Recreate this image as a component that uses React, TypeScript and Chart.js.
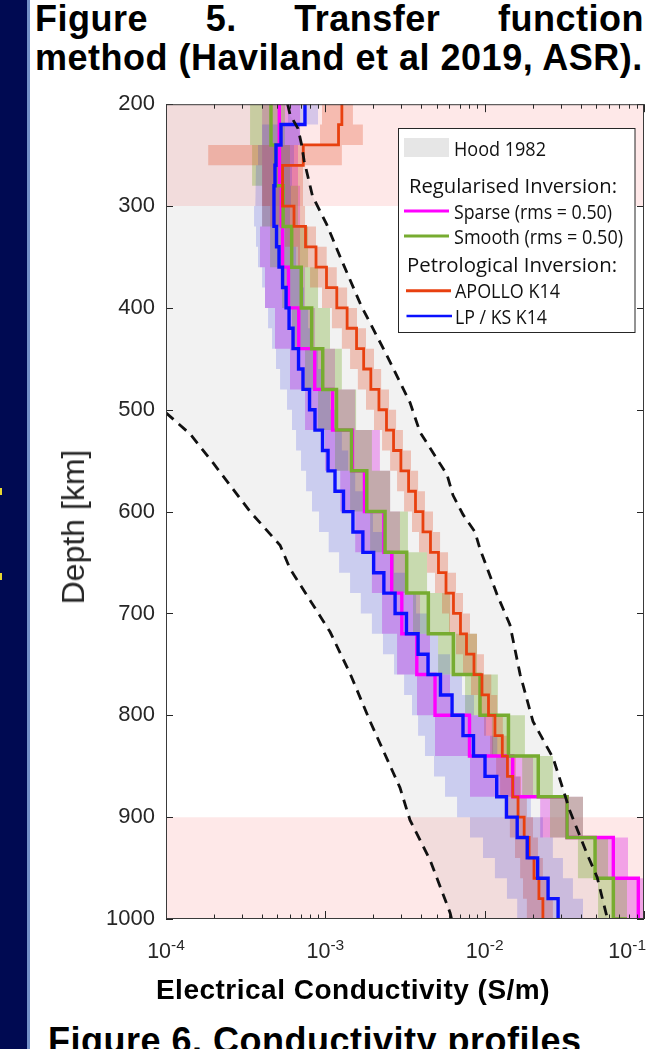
import React, { useEffect, useRef } from 'react';
import { Chart, registerables } from 'chart.js';

Chart.register(...registerables);

// ---------------- data ----------------
const DEPTH_MIN = 200;
const DEPTH_MAX = 1000;
const SIGMA_MIN = 1e-4;
const SIGMA_MAX = 1e-1;

const Y_TICKS = [200, 300, 400, 500, 600, 700, 800, 900, 1000];
const X_MAJOR_TICKS = [1e-4, 1e-3, 1e-2, 1e-1];
const X_TICK_EXPONENTS = ['-4', '-3', '-2', '-1'];
const X_MINOR_TICKS = [
  2e-4, 3e-4, 4e-4, 5e-4, 6e-4, 7e-4, 8e-4, 9e-4,
  2e-3, 3e-3, 4e-3, 5e-3, 6e-3, 7e-3, 8e-3, 9e-3,
  2e-2, 3e-2, 4e-2, 5e-2, 6e-2, 7e-2, 8e-2, 9e-2,
];

// top depth (km) of each model layer
const LAYER_TOPS_20 = [
  200, 220, 240, 260, 280, 300, 320, 340, 360, 380,
  400, 420, 440, 460, 480, 500, 520, 540, 560, 580,
  600, 620, 640, 660, 680, 700, 720, 740, 760, 780,
  800, 820, 840, 860, 880, 900, 920, 940, 960, 980,
];
const LAYER_TOPS_40 = [
  200, 240, 280, 320, 360, 400, 440, 480, 520, 560,
  600, 640, 680, 720, 760, 800, 840, 880, 920, 960,
];

// Petrological inversion, LP / KS K14 (S/m)
const LPKS_K14 = [
  7.45e-4, 5.27e-4, 4.90e-4, 4.83e-4, 4.76e-4, 4.76e-4, 4.94e-4, 5.12e-4, 5.39e-4, 5.67e-4,
  5.92e-4, 6.27e-4, 6.79e-4, 7.24e-4, 7.96e-4, 8.61e-4, 9.60e-4, 1.04e-3, 1.15e-3, 1.30e-3,
  1.49e-3, 1.72e-3, 2.01e-3, 2.33e-3, 2.74e-3, 3.23e-3, 3.82e-3, 4.41e-3, 5.28e-3, 6.24e-3,
  7.31e-3, 8.51e-3, 1.005e-2, 1.19e-2, 1.37e-2, 1.60e-2, 1.85e-2, 2.15e-2, 2.50e-2, 2.89e-2,
];
const LPKS_K14_LOW = [
  5.83e-4, 4.01e-4, 3.78e-4, 3.67e-4, 3.62e-4, 3.57e-4, 3.67e-4, 3.78e-4, 4.01e-4, 4.18e-4,
  4.37e-4, 4.63e-4, 4.90e-4, 5.20e-4, 5.75e-4, 6.18e-4, 6.55e-4, 7.04e-4, 7.57e-4, 8.25e-4,
  9.13e-4, 1.05e-3, 1.22e-3, 1.43e-3, 1.67e-3, 1.96e-3, 2.30e-3, 2.70e-3, 3.12e-3, 3.50e-3,
  3.82e-3, 4.22e-3, 4.81e-3, 5.64e-3, 6.71e-3, 8.09e-3, 9.76e-3, 1.16e-2, 1.38e-2, 1.60e-2,
];
const LPKS_K14_HIGH = [
  9.00e-4, 6.94e-4, 6.36e-4, 6.18e-4, 6.09e-4, 6.00e-4, 6.27e-4, 6.55e-4, 6.94e-4, 7.35e-4,
  7.79e-4, 8.25e-4, 9.00e-4, 9.67e-4, 1.07e-3, 1.17e-3, 1.27e-3, 1.39e-3, 1.54e-3, 1.72e-3,
  1.99e-3, 2.30e-3, 2.70e-3, 3.16e-3, 3.71e-3, 4.35e-3, 5.10e-3, 6.06e-3, 7.21e-3, 8.57e-3,
  1.02e-2, 1.20e-2, 1.40e-2, 1.67e-2, 1.95e-2, 2.32e-2, 2.68e-2, 3.10e-2, 3.58e-2, 4.14e-2,
];

// Petrological inversion, APOLLO K14 (S/m)
const APOLLO_K14 = [
  1.27e-3, 1.21e-3, 7.27e-4, 5.39e-4, 5.39e-4, 6.36e-4, 7.51e-4, 8.74e-4, 1.017e-3, 1.18e-3,
  1.37e-3, 1.57e-3, 1.74e-3, 1.93e-3, 2.17e-3, 2.42e-3, 2.68e-3, 2.98e-3, 3.33e-3, 3.68e-3,
  4.10e-3, 4.57e-3, 5.13e-3, 5.72e-3, 6.37e-3, 7.05e-3, 7.69e-3, 8.57e-3, 9.62e-3, 1.057e-2,
  1.16e-2, 1.29e-2, 1.39e-2, 1.50e-2, 1.62e-2, 1.77e-2, 1.90e-2, 2.04e-2, 2.19e-2, 2.32e-2,
];
const APOLLO_K14_LOW = [
  9.53e-4, 9.26e-4, 1.84e-4, 4.01e-4, 4.01e-4, 4.50e-4, 5.58e-4, 6.74e-4, 8.02e-4, 9.53e-4,
  1.10e-3, 1.27e-3, 1.43e-3, 1.60e-3, 1.80e-3, 2.02e-3, 2.27e-3, 2.55e-3, 2.82e-3, 3.12e-3,
  3.50e-3, 3.87e-3, 4.35e-3, 4.88e-3, 5.40e-3, 5.97e-3, 6.61e-3, 7.31e-3, 8.21e-3, 9.08e-3,
  9.90e-3, 1.08e-2, 1.18e-2, 1.25e-2, 1.34e-2, 1.44e-2, 1.55e-2, 1.67e-2, 1.74e-2, 1.84e-2,
];
const APOLLO_K14_HIGH = [
  1.49e-3, 1.72e-3, 1.27e-3, 7.24e-4, 7.24e-4, 7.46e-4, 8.74e-4, 1.02e-3, 1.18e-3, 1.37e-3,
  1.58e-3, 1.80e-3, 2.02e-3, 2.24e-3, 2.51e-3, 2.78e-3, 3.07e-3, 3.45e-3, 3.82e-3, 4.22e-3,
  4.74e-3, 5.25e-3, 5.89e-3, 6.61e-3, 7.31e-3, 8.09e-3, 8.95e-3, 9.90e-3, 1.10e-2, 1.20e-2,
  1.30e-2, 1.44e-2, 1.57e-2, 1.69e-2, 1.84e-2, 2.01e-2, 2.16e-2, 2.32e-2, 2.50e-2, 2.68e-2,
];

// Regularised inversion, sparse (S/m)
const SPARSE = [
  5.14e-4, 5.15e-4, 5.30e-4, 5.39e-4, 5.87e-4, 6.81e-4, 8.58e-4, 1.11e-3, 1.48e-3, 1.76e-3,
  2.33e-3, 2.61e-3, 3.02e-3, 3.75e-3, 4.88e-3, 8.03e-3, 1.50e-2, 3.29e-2, 6.42e-2, 9.21e-2,
];
const SPARSE_LOW = [
  4.01e-4, 4.01e-4, 4.01e-4, 3.89e-4, 4.18e-4, 4.83e-4, 6.00e-4, 7.46e-4, 9.95e-4, 1.24e-3,
  1.54e-3, 1.96e-3, 2.27e-3, 2.82e-3, 3.76e-3, 4.88e-3, 8.09e-3, 2.23e-2, 4.93e-2, 6.39e-2,
];
const SPARSE_HIGH = [
  6.94e-4, 6.74e-4, 6.94e-4, 6.94e-4, 7.46e-4, 8.62e-4, 1.15e-3, 1.54e-3, 2.20e-3, 2.55e-3,
  2.94e-3, 3.26e-3, 3.93e-3, 4.54e-3, 6.06e-3, 1.13e-2, 2.01e-2, 4.14e-2, 7.94e-2, 1.0e-1,
];

// Regularised inversion, smooth (S/m)
const SMOOTH = [
  4.56e-4, 4.87e-4, 5.43e-4, 6.15e-4, 7.06e-4, 8.21e-4, 9.63e-4, 1.175e-3, 1.46e-3, 1.82e-3,
  2.37e-3, 3.24e-3, 4.43e-3, 6.36e-3, 9.35e-3, 1.41e-2, 2.17e-2, 3.29e-2, 4.93e-2, 6.42e-2,
];
const SMOOTH_BELOW_1000 = 7.82e-2;
const SMOOTH_LOW = [
  3.37e-4, 3.47e-4, 4.01e-4, 4.50e-4, 5.35e-4, 6.18e-4, 7.46e-4, 9.00e-4, 1.15e-3, 1.43e-3,
  1.91e-3, 2.62e-3, 3.55e-3, 5.10e-3, 7.53e-3, 1.11e-2, 1.72e-2, 2.57e-2, 3.85e-2, 5.15e-2,
];
const SMOOTH_HIGH = [
  5.58e-4, 6.00e-4, 6.74e-4, 7.79e-4, 9.00e-4, 1.07e-3, 1.27e-3, 1.56e-3, 1.96e-3, 2.55e-3,
  3.30e-3, 4.35e-3, 6.06e-3, 8.95e-3, 1.21e-2, 1.79e-2, 2.68e-2, 4.14e-2, 5.95e-2, 7.82e-2,
];

// Hood 1982 bounds (dashed lines)
const HOOD_LOW_DEPTH = [503, 524, 552, 600, 633, 656, 718, 759, 806, 871, 903, 942, 994, 1000];
const HOOD_LOW_SIGMA = [1.0e-4, 1.42e-4, 1.97e-4, 3.37e-4, 5.2e-4, 6.0e-4, 1.07e-3, 1.43e-3, 1.91e-3, 2.94e-3, 3.40e-3, 4.54e-3, 6.07e-3, 6.2e-3];
const HOOD_HIGH_DEPTH = [200, 210, 224, 240, 255, 290, 318, 350, 398, 447, 493, 522, 564, 584, 603, 620, 637, 682, 711, 760, 806, 842, 894, 936, 959, 1000];
const HOOD_HIGH_SIGMA = [5.8e-4, 6.0e-4, 6.74e-4, 7.1e-4, 7.35e-4, 8.3e-4, 1.02e-3, 1.24e-3, 1.68e-3, 2.44e-3, 3.40e-3, 3.93e-3, 5.81e-3, 6.33e-3, 7.32e-3, 8.70e-3, 9.36e-3, 1.20e-2, 1.44e-2, 1.67e-2, 2.01e-2, 2.69e-2, 3.43e-2, 4.39e-2, 5.08e-2, 5.9e-2];

// shaded depth zones (km)
const CRUST_ZONE = [200, 300];
const CORE_ZONE = [900, 1000];

// ---------------- styles ----------------
const COL_SPARSE = '#ff00ff';
const COL_SMOOTH = '#77ac30';
const COL_APOLLO = '#e8400f';
const COL_LPKS = '#0a10ff';
const BAND_SPARSE = 'rgba(215,0,225,0.30)';
const BAND_SMOOTH = 'rgba(119,172,48,0.34)';
const BAND_APOLLO = 'rgba(225,70,30,0.28)';
const BAND_LPKS = 'rgba(30,40,230,0.18)';
const HOOD_FILL = '#f2f2f2';
const ZONE_FILL = 'rgba(240,0,0,0.09)';
const AXIS_COL = '#262626';
const CANVAS_TOP = 80;
const CANVAS_W = 647;
const CANVAS_H = 940;

// ---------------- builders ----------------
function stepPoints(tops: number[], values: number[], below?: number) {
  const pts = tops.map((d, i) => ({ x: values[i], y: d }));
  pts.push({ x: below !== undefined ? below : values[values.length - 1], y: DEPTH_MAX });
  return pts;
}

function bandPolygon(tops: number[], lo: number[], hi: number[]) {
  const pts: { x: number; y: number }[] = [];
  const bottom = (i: number) => (i + 1 < tops.length ? tops[i + 1] : DEPTH_MAX);
  for (let i = 0; i < tops.length; i++) {
    pts.push({ x: lo[i], y: tops[i] }, { x: lo[i], y: bottom(i) });
  }
  for (let i = tops.length - 1; i >= 0; i--) {
    pts.push({ x: hi[i], y: bottom(i) }, { x: hi[i], y: tops[i] });
  }
  return pts;
}

function zonePolygon(zone: number[]) {
  return [
    { x: SIGMA_MIN, y: zone[0] },
    { x: SIGMA_MAX, y: zone[0] },
    { x: SIGMA_MAX, y: zone[1] },
    { x: SIGMA_MIN, y: zone[1] },
  ];
}

function curve(depths: number[], sigmas: number[]) {
  return depths.map((d, i) => ({ x: sigmas[i], y: d }));
}

function hoodPolygon() {
  const low = curve(HOOD_LOW_DEPTH, HOOD_LOW_SIGMA);
  const high = curve(HOOD_HIGH_DEPTH, HOOD_HIGH_SIGMA).reverse();
  return [{ x: SIGMA_MIN, y: DEPTH_MIN }, ...low, ...high];
}

const polyDs = (label: string, data: any[], color: string, order: number) => ({
  label,
  data,
  indexAxis: 'y',
  borderColor: 'rgba(0,0,0,0)',
  borderWidth: 0,
  backgroundColor: color,
  fill: 'shape',
  pointRadius: 0,
  order,
});

const stepDs = (label: string, data: any[], color: string, width: number, order: number) => ({
  label,
  data,
  indexAxis: 'y',
  borderColor: color,
  borderWidth: width,
  stepped: 'after',
  fill: false,
  pointRadius: 0,
  order,
});

const dashDs = (label: string, data: any[], order: number) => ({
  label,
  data,
  indexAxis: 'y',
  borderColor: '#111111',
  borderWidth: 2.8,
  borderDash: [10, 7],
  fill: false,
  pointRadius: 0,
  order,
});

// ---------------- plugins ----------------
const framePlugin = {
  id: 'frameTicks',
  afterDatasetsDraw(chart: any) {
    const { ctx, chartArea: a, scales } = chart;
    const x = scales.x;
    const y = scales.y;
    ctx.save();
    ctx.strokeStyle = AXIS_COL;
    ctx.lineWidth = 1;
    ctx.beginPath();
    const xTick = (v: number, len: number) => {
      const px = Math.round(x.getPixelForValue(v)) + 0.5;
      ctx.moveTo(px, a.bottom);
      ctx.lineTo(px, a.bottom - len);
      ctx.moveTo(px, a.top);
      ctx.lineTo(px, a.top + len);
    };
    X_MAJOR_TICKS.forEach((v) => xTick(v, 8));
    X_MINOR_TICKS.forEach((v) => xTick(v, 4.5));
    Y_TICKS.forEach((v) => {
      const py = Math.round(y.getPixelForValue(v)) + 0.5;
      ctx.moveTo(a.left, py);
      ctx.lineTo(a.left + 7, py);
      ctx.moveTo(a.right, py);
      ctx.lineTo(a.right - 7, py);
    });
    ctx.stroke();
    ctx.strokeStyle = '#3a3a3a';
    ctx.strokeRect(a.left + 0.5, a.top + 0.5, a.right - a.left - 1, a.bottom - a.top - 1);
    ctx.restore();
  },
};

const xLabelPlugin = {
  id: 'xPowerLabels',
  afterDraw(chart: any) {
    const { ctx, chartArea: a, scales } = chart;
    const x = scales.x;
    ctx.save();
    ctx.fillStyle = AXIS_COL;
    ctx.textAlign = 'left';
    ctx.textBaseline = 'alphabetic';
    X_MAJOR_TICKS.forEach((v, i) => {
      const px = x.getPixelForValue(v);
      ctx.font = '21.5px "Liberation Sans", Arial, sans-serif';
      const wb = ctx.measureText('10').width;
      ctx.font = '15.5px "Liberation Sans", Arial, sans-serif';
      const we = ctx.measureText(X_TICK_EXPONENTS[i]).width;
      let left = px - (wb + we) / 2;
      if (left + wb + we > chart.width - 1) left = chart.width - 1 - wb - we;
      ctx.font = '21.5px "Liberation Sans", Arial, sans-serif';
      ctx.fillText('10', left, a.bottom + 39.3);
      ctx.font = '15.5px "Liberation Sans", Arial, sans-serif';
      ctx.fillText(X_TICK_EXPONENTS[i], left + wb, a.bottom + 31);
    });
    ctx.restore();
  },
};

const LEGEND_FONT = '"Open Sans", "Noto Sans", sans-serif';
function fitText(ctx: any, text: string, x: number, baseline: number, size: number, width: number) {
  ctx.font = `${size}px ${LEGEND_FONT}`;
  const w = ctx.measureText(text).width;
  const sx = Math.max(0.75, Math.min(1.15, width / w));
  ctx.save();
  ctx.translate(x, baseline);
  ctx.scale(sx, 1);
  ctx.fillText(text, 0, 0);
  ctx.restore();
}

const legendPlugin = {
  id: 'slideLegend',
  afterDraw(chart: any) {
    const ctx = chart.ctx;
    const oy = -CANVAS_TOP;
    ctx.save();
    ctx.fillStyle = '#ffffff';
    ctx.fillRect(398.5, 128.5 + oy, 236.5, 204);
    ctx.strokeStyle = AXIS_COL;
    ctx.lineWidth = 1;
    ctx.strokeRect(398.5, 128.5 + oy, 236.5, 204);
    // Hood patch
    ctx.fillStyle = '#e6e6e6';
    ctx.fillRect(404, 138 + oy, 45, 19);
    ctx.fillStyle = '#111111';
    ctx.textAlign = 'left';
    ctx.textBaseline = 'alphabetic';
    fitText(ctx, 'Hood 1982', 454, 156 + oy, 20, 92);
    fitText(ctx, 'Regularised Inversion:', 409, 193 + oy, 20, 208);
    fitText(ctx, 'Sparse (rms = 0.50)', 454, 219 + oy, 20, 158);
    fitText(ctx, 'Smooth (rms = 0.50)', 454, 243.5 + oy, 20, 169);
    fitText(ctx, 'Petrological Inversion:', 407, 271.5 + oy, 20, 210);
    fitText(ctx, 'APOLLO K14', 455, 298 + oy, 20, 105);
    fitText(ctx, 'LP / KS K14', 455, 324 + oy, 20, 92);
    const sample = (color: string, width: number, y: number, x0: number, x1: number) => {
      ctx.strokeStyle = color;
      ctx.lineWidth = width;
      ctx.beginPath();
      ctx.moveTo(x0, y + oy);
      ctx.lineTo(x1, y + oy);
      ctx.stroke();
    };
    sample(COL_SPARSE, 3.2, 211, 404, 449);
    sample(COL_SMOOTH, 3.2, 236, 404, 449);
    sample(COL_APOLLO, 3, 290.7, 406, 451);
    sample(COL_LPKS, 2.6, 316, 406.5, 452);
    ctx.restore();
  },
};

// ---------------- component ----------------
export default function App() {
  const ref = useRef<HTMLCanvasElement | null>(null);

  useEffect(() => {
    const canvas = ref.current;
    if (!canvas) return;
    const datasets: any[] = [
      dashDs('Hood 1982 lower', curve(HOOD_LOW_DEPTH, HOOD_LOW_SIGMA), 0),
      dashDs('Hood 1982 upper', curve(HOOD_HIGH_DEPTH, HOOD_HIGH_SIGMA), 0),
      stepDs('LP / KS K14', stepPoints(LAYER_TOPS_20, LPKS_K14), COL_LPKS, 3.4, 1),
      stepDs('APOLLO K14', stepPoints(LAYER_TOPS_20, APOLLO_K14), COL_APOLLO, 2.8, 2),
      stepDs('Smooth (rms = 0.50)', stepPoints(LAYER_TOPS_40, SMOOTH, SMOOTH_BELOW_1000), COL_SMOOTH, 3.5, 3),
      stepDs('Sparse (rms = 0.50)', stepPoints(LAYER_TOPS_40, SPARSE), COL_SPARSE, 3.4, 4),
      polyDs('LP / KS K14 range', bandPolygon(LAYER_TOPS_20, LPKS_K14_LOW, LPKS_K14_HIGH), BAND_LPKS, 5),
      polyDs('APOLLO K14 range', bandPolygon(LAYER_TOPS_20, APOLLO_K14_LOW, APOLLO_K14_HIGH), BAND_APOLLO, 6),
      polyDs('Smooth range', bandPolygon(LAYER_TOPS_40, SMOOTH_LOW, SMOOTH_HIGH), BAND_SMOOTH, 7),
      polyDs('Sparse range', bandPolygon(LAYER_TOPS_40, SPARSE_LOW, SPARSE_HIGH), BAND_SPARSE, 8),
      polyDs('Crust zone', zonePolygon(CRUST_ZONE), ZONE_FILL, 9),
      polyDs('Core zone', zonePolygon(CORE_ZONE), ZONE_FILL, 9),
      polyDs('Hood 1982', hoodPolygon(), HOOD_FILL, 10),
    ];

    const chart = new Chart(canvas, {
      type: 'line',
      data: { datasets },
      options: {
        animation: false,
        responsive: false,
        events: [],
        indexAxis: 'y',
        layout: { padding: { left: 0, top: 20, right: 3, bottom: 101 } },
        plugins: {
          legend: { display: false },
          tooltip: { enabled: false },
          title: { display: false },
        },
        elements: { point: { radius: 0 }, line: { tension: 0 } },
        scales: {
          x: {
            type: 'logarithmic',
            position: 'bottom',
            min: SIGMA_MIN,
            max: SIGMA_MAX,
            grid: { display: false, drawTicks: false },
            border: { display: false },
            ticks: { display: false },
            afterFit: (s: any) => {
              s.height = 0;
            },
          },
          y: {
            type: 'linear',
            position: 'left',
            reverse: true,
            min: DEPTH_MIN,
            max: DEPTH_MAX,
            grid: { display: false, drawTicks: false },
            border: { display: false },
            ticks: {
              color: AXIS_COL,
              padding: 11,
              font: { family: '"Liberation Sans", Arial, sans-serif', size: 22 },
              callback: (v: any) => String(v),
            },
            afterBuildTicks: (s: any) => {
              s.ticks = Y_TICKS.map((v) => ({ value: v }));
            },
            afterFit: (s: any) => {
              s.width = 166;
            },
          },
        },
      } as any,
      plugins: [framePlugin, xLabelPlugin, legendPlugin],
    } as any);
    return () => chart.destroy();
  }, []);

  const sans = '"Liberation Sans", Arial, Helvetica, sans-serif';
  return (
    <div
      style={{
        position: 'fixed',
        left: 0,
        top: 0,
        width: 647,
        height: 1049,
        overflow: 'hidden',
        background: '#ffffff',
        fontFamily: sans,
      }}
    >
      <div style={{ position: 'absolute', left: 0, top: 0, width: 27, height: 1049, background: '#000a52' }} />
      <div style={{ position: 'absolute', left: 27, top: 0, width: 2.5, height: 1049, background: '#7390c6' }} />
      <div style={{ position: 'absolute', left: 0, top: 488, width: 2, height: 7, background: '#e8d830' }} />
      <div style={{ position: 'absolute', left: 0, top: 573, width: 2, height: 7, background: '#e8d830' }} />

      <div
        style={{
          position: 'absolute',
          left: 35,
          top: 1,
          width: 609,
          display: 'flex',
          justifyContent: 'space-between',
          fontSize: 36,
          lineHeight: '36px',
          fontWeight: 'bold',
          color: '#000',
          letterSpacing: 0.5,
          whiteSpace: 'nowrap',
        }}
      >
        <span>Figure</span>
        <span>5.</span>
        <span>Transfer</span>
        <span>function</span>
      </div>
      <div
        style={{
          position: 'absolute',
          left: 35,
          top: 39.5,
          fontSize: 36,
          lineHeight: '36px',
          fontWeight: 'bold',
          color: '#000',
          letterSpacing: 0.5,
          whiteSpace: 'nowrap',
        }}
      >
        method (Haviland et al 2019, ASR).
      </div>

      <canvas
        ref={ref}
        width={CANVAS_W}
        height={CANVAS_H}
        style={{ position: 'absolute', left: 0, top: CANVAS_TOP, width: CANVAS_W, height: CANVAS_H }}
      />

      <div
        style={{
          position: 'absolute',
          left: 73,
          top: 526.5,
          transform: 'translate(-50%, -50%) rotate(-90deg)',
          fontSize: 32,
          lineHeight: '32px',
          color: AXIS_COL,
          whiteSpace: 'nowrap',
        }}
      >
        Depth [km]
      </div>

      <div
        style={{
          position: 'absolute',
          left: 353,
          top: 976,
          transform: 'translateX(-50%)',
          fontSize: 28,
          lineHeight: '28px',
          fontWeight: 'bold',
          color: '#000',
          letterSpacing: 0.5,
          whiteSpace: 'nowrap',
        }}
      >
        Electrical Conductivity (S/m)
      </div>

      <div
        style={{
          position: 'absolute',
          left: 48,
          top: 1023,
          fontSize: 36,
          lineHeight: '36px',
          fontWeight: 'bold',
          color: '#000',
          letterSpacing: 0.5,
          whiteSpace: 'nowrap',
        }}
      >
        Figure 6. Conductivity profiles
      </div>
    </div>
  );
}
